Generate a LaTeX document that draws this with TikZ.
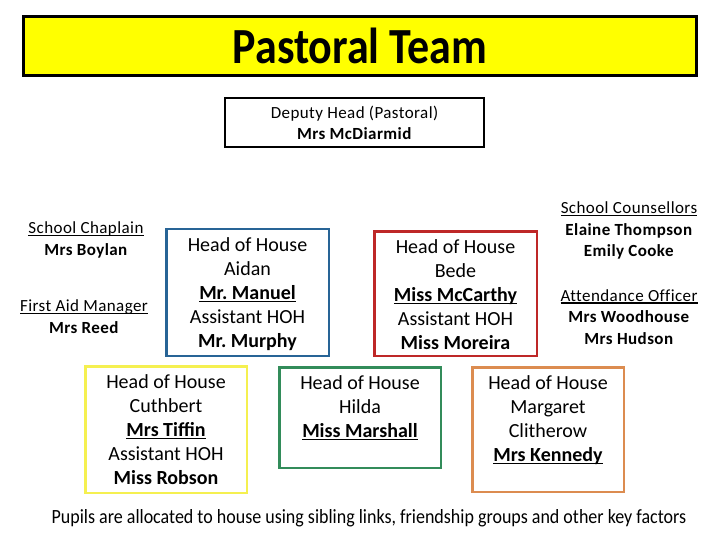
\documentclass[tikz,border=0pt]{standalone}
\usepackage{fontspec}
\setmainfont{Carlito}
\newfontfamily\spacedfont[LetterSpace=2.5, Ligatures=NoCommon]{Carlito}
\usetikzlibrary{positioning}
\definecolor{titlecolor}{RGB}{255,255,0}
\definecolor{aidancolor}{RGB}{40,100,150}
\definecolor{bedecolor}{RGB}{190,40,40}
\definecolor{cuthbertcolor}{RGB}{245,240,80}
\definecolor{hildacolor}{RGB}{50,140,90}
\definecolor{margaretcolor}{RGB}{220,140,80}
\newcommand{\undertext}[1]{\setbox0\hbox{#1}\leavevmode\rlap{\rule[-0.14em]{\wd0}{0.08em}}\box0}
\frenchspacing

\begin{document}
\begin{tikzpicture}[x=1pt, y=-1pt]
  \tikzset{
    housebox/.style={
      draw=#1,
      line width=2.5pt,
      inner sep=0pt
    },
    housetext/.style={
      align=center,
      anchor=north,
      inner sep=0pt,
      font=\fontsize{20}{24}\selectfont
    },
    stafftext/.style={
      align=center,
      inner sep=0pt,
      font=\spacedfont\fontsize{17}{21.5}\selectfont
    }
  }
  \useasboundingbox (0,0) rectangle (720,540);

  % Title banner
  \node[draw, line width=3pt, fill=titlecolor, minimum width=673pt, minimum height=59pt,
        font=\fontsize{44}{50}\selectfont\bfseries] (title) at (360,46)
        {\scalebox{1}[1.15]{Pastoral Team}};

  % Deputy head
  \node[draw, line width=2pt, minimum width=259pt, minimum height=49pt, align=center,
        font=\spacedfont\fontsize{17}{21}\selectfont] (deputy) at (354.5,122.5)
        {Deputy Head (Pastoral)\\ \textbf{Mrs McDiarmid}};

  % Support staff (left)
  \node[stafftext] (chaplain) at (86,240) {\undertext{School Chaplain}\\ \textbf{Mrs Boylan}};
  \node[stafftext] (firstaid) at (84,316.5) {\undertext{First Aid Manager}\\ \textbf{Mrs Reed}};

  % Support staff (right)
  \node[stafftext] (counsellors) at (629,230.5)
        {\undertext{School Counsellors}\\ \textbf{Elaine Thompson}\\ \textbf{Emily Cooke}};
  \node[stafftext] (attendance) at (629,317)
        {\undertext{Attendance Officer}\\ \textbf{Mrs Woodhouse}\\ \textbf{Mrs Hudson}};

  % House boxes
  \node[housebox=aidancolor, minimum width=162.5pt, minimum height=126.5pt] (aidanbox) at (247.5,292.5) {};
  \node[housetext, below=9.5pt of aidanbox.north] (aidan)
        {Head of House\\ Aidan\\ \undertext{\textbf{Mr. Manuel}}\\ Assistant HOH\\ \textbf{Mr. Murphy}};

  \node[housebox=bedecolor, minimum width=162.5pt, minimum height=124.5pt] (bedebox) at (455.5,293.5) {};
  \node[housetext, below=9.5pt of bedebox.north] (bede)
        {Head of House\\ Bede\\ \undertext{\textbf{Miss McCarthy}}\\ Assistant HOH\\ \textbf{Miss Moreira}};

  \node[housebox=cuthbertcolor, minimum width=161.5pt, minimum height=126.5pt] (cuthbertbox) at (166,429.5) {};
  \node[housetext, below=9.5pt of cuthbertbox.north] (cuthbert)
        {Head of House\\ Cuthbert\\ \undertext{\textbf{Mrs Tiffin}}\\ Assistant HOH\\ \textbf{Miss Robson}};

  \node[housebox=hildacolor, minimum width=161.5pt, minimum height=100.5pt] (hildabox) at (360,417.5) {};
  \node[housetext, below=9.5pt of hildabox.north] (hilda)
        {Head of House\\ Hilda\\ \undertext{\textbf{Miss Marshall}}};

  \node[housebox=margaretcolor, minimum width=151.5pt, minimum height=124.5pt] (margaretbox) at (548,429.5) {};
  \node[housetext, below=9.5pt of margaretbox.north] (margaret)
        {Head of House\\ Margaret\\ Clitherow\\ \undertext{\textbf{Mrs Kennedy}}};

  % Footer note
  \node[inner sep=0pt, font=\fontsize{18}{20}\selectfont] (note) at (369,518)
        {\scalebox{1}[1.12]{Pupils are allocated to house using sibling links, friendship groups and other key factors}};
\end{tikzpicture}
\end{document}
